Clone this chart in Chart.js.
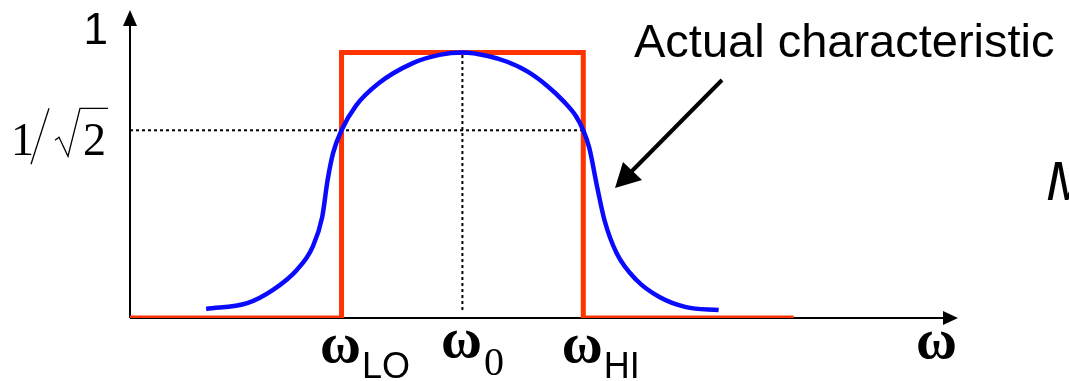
<!DOCTYPE html>
<html>
<head>
<meta charset="utf-8">
<title>Band-pass characteristic</title>
<script src="https://cdn.jsdelivr.net/npm/chart.js@4/dist/chart.umd.min.js"></script>
<style>
  html, body { margin: 0; padding: 0; background: #fff; }
  #wrap { width: 1069px; height: 381px; position: relative; }
</style>
</head>
<body>
<div id="wrap"><canvas id="canvas1"></canvas></div>
<script>
// Frequency axis values (arbitrary units, w0 = 30)
let bandEdges = [20, 30, 40];               // wLO, w0, wHI
let edgeSubs = ["LO", "0", "HI"];
let halfPower = 0.707;                      // 1/sqrt(2)

// Actual (measured) characteristic
let actualW   = [8.8, 12.2, 14.3, 16.3, 17.6, 18.4, 18.85, 19.3, 20, 21.2, 23.1, 25.9, 28.1, 30,
                 32.1, 33.7, 35.4, 37.0, 38.4, 39.4, 40.0, 40.5, 41.15, 41.75, 42.75, 44.4, 46.3, 48.5, 51.2];
let actualMag = [0.034, 0.056, 0.105, 0.181, 0.267, 0.38, 0.52, 0.621, 0.707, 0.80, 0.885, 0.96, 0.991, 1.0,
                 0.987, 0.965, 0.928, 0.875, 0.815, 0.76, 0.707, 0.64, 0.493, 0.369, 0.245, 0.143, 0.079, 0.041, 0.030];

// Ideal (brick wall) characteristic
let idealW   = [2.3, 20, 20, 40, 40, 57.4];
let idealMag = [0, 0, 1, 1, 0, 0];

const toXY = (xs, ys) => xs.map((x, i) => ({ x: x, y: ys[i] }));

// axes with arrow heads, plus the hand-set labels
const axesPlugin = {
    id: "axes",
    beforeDatasetsDraw(chart) {
        const ctx = chart.ctx;
        const xs = chart.scales.x, ys = chart.scales.y;
        const x0 = xs.left, y0 = ys.getPixelForValue(0);
        const xEnd = xs.right, yEnd = ys.top;
        ctx.save();
        ctx.strokeStyle = "#000";
        ctx.fillStyle = "#000";
        ctx.lineWidth = 2;
        ctx.beginPath();
        ctx.moveTo(x0, y0);
        ctx.lineTo(x0, yEnd + 12);
        ctx.moveTo(x0, y0);
        ctx.lineTo(xEnd - 12, y0);
        ctx.stroke();
        ctx.beginPath();
        ctx.moveTo(x0, yEnd);
        ctx.lineTo(x0 - 7, yEnd + 16);
        ctx.lineTo(x0 + 7, yEnd + 16);
        ctx.closePath();
        ctx.fill();
        ctx.beginPath();
        ctx.moveTo(xEnd, y0);
        ctx.lineTo(xEnd - 15, y0 - 7);
        ctx.lineTo(xEnd - 15, y0 + 7);
        ctx.closePath();
        ctx.fill();
        ctx.restore();
    },
    afterDatasetsDraw(chart) {
        const ctx = chart.ctx;
        const xs = chart.scales.x, ys = chart.scales.y;
        const serif = "\"Liberation Serif\", \"DejaVu Serif\", serif";
        const omegaFont = "bold 56px \"Liberation Serif\", serif";
        const sans = "\"Liberation Sans\", Arial, sans-serif";
        ctx.save();
        ctx.fillStyle = "#000";
        ctx.strokeStyle = "#000";
        ctx.textBaseline = "alphabetic";

        // y labels
        ctx.font = "44px " + sans;
        ctx.textAlign = "right";
        ctx.fillText("1", 108, ys.getPixelForValue(1) - 8);

        const yh = ys.getPixelForValue(halfPower) + 25;
        ctx.textAlign = "left";
        ctx.font = "46px " + serif;
        ctx.fillText("1", 11, yh);
        ctx.fillText("2", 83, yh);
        ctx.lineWidth = 1.3;
        ctx.beginPath();
        ctx.moveTo(49, yh - 47);
        ctx.lineTo(31, yh + 9);
        ctx.stroke();
        ctx.beginPath();
        ctx.moveTo(55, yh - 15);
        ctx.lineTo(59, yh - 18);
        ctx.lineTo(68, yh + 1);
        ctx.lineTo(80, yh - 47);
        ctx.lineTo(108, yh - 47);
        ctx.stroke();

        // frequency labels
        bandEdges.forEach((w, i) => {
            const px = xs.getPixelForValue(w);
            ctx.font = omegaFont;
            const ww = ctx.measureText("\u03c9").width;
            const base = i === 1 ? 357 : 362;
            ctx.textAlign = "left";
            ctx.fillText("\u03c9", px - ww / 2 - 1, base);
            if (edgeSubs[i] === "0") {
                ctx.font = "40px " + serif;
                ctx.fillText(edgeSubs[i], px + ww / 2 + 1, 375);
            } else {
                ctx.font = "36px " + sans;
                ctx.fillText(edgeSubs[i], px + ww / 2, 378);
            }
        });
        ctx.font = omegaFont;
        ctx.textAlign = "left";
        ctx.fillText("\u03c9", 916, 358);

        // annotation
        ctx.font = "47px " + sans;
        ctx.fillText("Actual characteristic", 634, 57);
        ctx.lineWidth = 4;
        ctx.beginPath();
        ctx.moveTo(722, 80);
        ctx.lineTo(630, 173);
        ctx.stroke();
        ctx.beginPath();
        ctx.moveTo(615, 188);
        ctx.lineTo(623, 162);
        ctx.lineTo(642, 180);
        ctx.closePath();
        ctx.fill();

        ctx.font = "italic 56px " + sans;
        ctx.fillText("M", 1046, 200);
        ctx.restore();
    }
};

let myChart1 = document.querySelector("#canvas1").getContext("2d");

let bandChart = new Chart(myChart1, {
    type: "line",
    data: {
        datasets: [{
            label: "Actual",
            data: toXY(actualW, actualMag),
            borderColor: "#0a0aff",
            borderWidth: 4.5,
            cubicInterpolationMode: "monotone",
            pointRadius: 0,
            fill: false
        }, {
            label: "Ideal",
            data: toXY(idealW, idealMag),
            borderColor: "#ff3300",
            borderWidth: 5,
            pointRadius: 0,
            tension: 0,
            fill: false
        }, {
            label: "Half power",
            data: [{ x: 2.5, y: halfPower }, { x: bandEdges[2], y: halfPower }],
            borderColor: "#000",
            borderWidth: 2,
            borderDash: [3, 3],
            pointRadius: 0
        }, {
            label: "Centre",
            data: [{ x: bandEdges[1], y: 0.03 }, { x: bandEdges[1], y: 1 }],
            borderColor: "#000",
            borderWidth: 2,
            borderDash: [3, 3],
            pointRadius: 0
        }]
    },
    options: {
        responsive: true,
        maintainAspectRatio: false,
        animation: false,
        layout: { padding: { left: 130, right: 111, top: 10, bottom: 63 } },
        plugins: { legend: { display: false }, tooltip: { enabled: false } },
        scales: {
            x: { type: "linear", min: 2.5, max: 71, display: false },
            y: { type: "linear", min: 0, max: 1.16, display: false }
        }
    },
    plugins: [axesPlugin]
});
</script>
</body>
</html>
